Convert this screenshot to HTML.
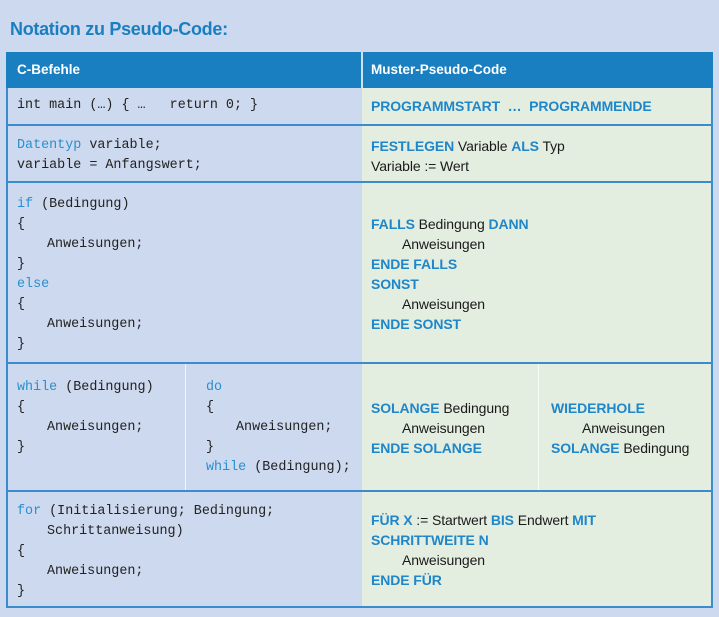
<!DOCTYPE html>
<html><head><meta charset="utf-8"><style>
body{margin:0;width:719px;height:617px;background:#cdd9ee;position:relative;overflow:hidden;font-family:"Liberation Sans",sans-serif}
.a{position:absolute}
.t{position:absolute;white-space:pre;line-height:20px}
.m{font-family:"Liberation Mono",monospace;font-size:13.4px;color:#222}
.s{font-family:"Liberation Sans",sans-serif;font-size:14px;color:#1a1a1a;letter-spacing:-0.1px}
.k{color:#2a8fd0}
.b{color:#1f86c9;font-weight:bold}
.i{padding-left:30px}
.j{padding-left:31px}
</style></head><body>
<div class="a" style="left:10px;top:19px;font-size:18px;font-weight:bold;color:#1a7fc1;letter-spacing:-0.3px">Notation zu Pseudo-Code:</div>
<div class="a" style="left:6px;top:52px;width:707px;height:556px;border:2px solid #3a8ccc;box-sizing:border-box;background:#cdd9ee"></div>
<div class="a" style="left:362px;top:88px;width:349px;height:518px;background:#e4eee0"></div>
<div class="a" style="left:6px;top:52px;width:707px;height:36px;background:#1a7fc1"></div>
<div class="a" style="left:361px;top:52px;width:2px;height:36px;background:#cfe2f2"></div>
<div class="a" style="left:17px;top:62px;color:#fff;font-weight:bold;font-size:13.5px">C-Befehle</div>
<div class="a" style="left:371px;top:62px;color:#fff;font-weight:bold;font-size:13.5px">Muster-Pseudo-Code</div>
<div class="a" style="left:6px;top:124px;width:707px;height:2px;background:#3a8ccc"></div>
<div class="a" style="left:6px;top:181px;width:707px;height:2px;background:#3a8ccc"></div>
<div class="a" style="left:6px;top:362px;width:707px;height:2px;background:#3a8ccc"></div>
<div class="a" style="left:6px;top:490px;width:707px;height:2px;background:#3a8ccc"></div>
<div class="a" style="left:185px;top:364px;width:1px;height:126px;background:#f2f6fb"></div>
<div class="a" style="left:538px;top:364px;width:1px;height:126px;background:#f7faf5"></div>
<div class="t m" style="left:17px;top:96px">int main (…) { …   return 0; }</div>
<div class="t s" style="left:371px;top:96px"><span class="b">PROGRAMMSTART  …  PROGRAMMENDE</span></div>
<div class="t m" style="left:17px;top:136px"><span class="k">Datentyp</span> variable;
variable = Anfangswert;</div>
<div class="t s" style="left:371px;top:136px"><span class="b">FESTLEGEN</span> Variable <span class="b">ALS</span> Typ
Variable := Wert</div>
<div class="t m" style="left:17px;top:195px"><span class="k">if</span> (Bedingung)
{
<span class="i">Anweisungen;</span>
}
<span class="k">else</span>
{
<span class="i">Anweisungen;</span>
}</div>
<div class="t s" style="left:371px;top:214px"><span class="b">FALLS</span> Bedingung <span class="b">DANN</span>
<span class="j">Anweisungen</span>
<span class="b">ENDE FALLS</span>
<span class="b">SONST</span>
<span class="j">Anweisungen</span>
<span class="b">ENDE SONST</span></div>
<div class="t m" style="left:17px;top:378px"><span class="k">while</span> (Bedingung)
{
<span class="i">Anweisungen;</span>
}</div>
<div class="t m" style="left:206px;top:378px"><span class="k">do</span>
{
<span class="i">Anweisungen;</span>
}
<span class="k">while</span> (Bedingung);</div>
<div class="t s" style="left:371px;top:398px"><span class="b">SOLANGE</span> Bedingung
<span class="j">Anweisungen</span>
<span class="b">ENDE SOLANGE</span></div>
<div class="t s" style="left:551px;top:398px"><span class="b">WIEDERHOLE</span>
<span class="j">Anweisungen</span>
<span class="b">SOLANGE</span> Bedingung</div>
<div class="t m" style="left:17px;top:502px"><span class="k">for</span> (Initialisierung; Bedingung;
<span class="i">Schrittanweisung)</span>
{
<span class="i">Anweisungen;</span>
}</div>
<div class="t s" style="left:371px;top:510px"><span class="b">FÜR X</span> := Startwert <span class="b">BIS</span> Endwert <span class="b">MIT</span>
<span class="b">SCHRITTWEITE N</span>
<span class="j">Anweisungen</span>
<span class="b">ENDE FÜR</span></div>
</body></html>
